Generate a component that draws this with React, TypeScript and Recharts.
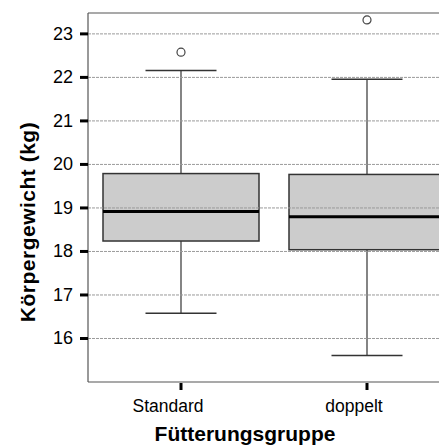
import { ComposedChart, Bar, Scatter, XAxis, YAxis, ReferenceLine } from 'recharts'

const groups = ['Standard', 'doppelt']
const whiskerLow = [16.58, 15.61]
const q1 = [18.24, 18.04]
const median = [18.92, 18.8]
const q3 = [19.79, 19.77]
const whiskerHigh = [22.16, 21.96]
const outliers = [22.58, 23.32]
const yTicks = [16, 17, 18, 19, 20, 21, 22, 23]
const yMax = 23.48

const data = groups.map((g, i) => ({
  group: g,
  range: [whiskerLow[i], whiskerHigh[i]],
  lo: whiskerLow[i],
  q1: q1[i],
  med: median[i],
  q3: q3[i],
  hi: whiskerHigh[i],
  outlier: outliers[i],
}))

const FONT = 'Liberation Sans, Arial, sans-serif'

// Whisker-to-whisker bar, the quartile box and median drawn inside it
function BoxShape(props: any) {
  const { x, y, width, height, payload } = props
  const top = Math.min(y, y + height)
  const h = Math.abs(height)
  const px = (v: number) => top + (h * (payload.hi - v)) / (payload.hi - payload.lo)
  const cx = x + width / 2
  const cap = 35.5
  return (
    <g>
      <line x1={cx} x2={cx} y1={px(payload.hi)} y2={px(payload.q3)} stroke="#333" strokeWidth={1.2} />
      <line x1={cx} x2={cx} y1={px(payload.q1)} y2={px(payload.lo)} stroke="#333" strokeWidth={1.2} />
      <line x1={cx - cap} x2={cx + cap} y1={px(payload.hi)} y2={px(payload.hi)} stroke="#333" strokeWidth={1.5} />
      <line x1={cx - cap} x2={cx + cap} y1={px(payload.lo)} y2={px(payload.lo)} stroke="#333" strokeWidth={1.5} />
      <rect x={x} y={px(payload.q3)} width={width} height={px(payload.q1) - px(payload.q3)}
        fill="#cccccc" stroke="#333" strokeWidth={1.5} />
      <line x1={x} x2={x + width} y1={px(payload.med)} y2={px(payload.med)} stroke="#000" strokeWidth={3} />
    </g>
  )
}

function OutlierDot(props: any) {
  const { cx, cy } = props
  return <circle cx={cx} cy={cy} r={4} fill="none" stroke="#444" strokeWidth={1.2} />
}

function YTick(props: any) {
  const { x, y, payload } = props
  return (
    <g>
      <line x1={x - 8} x2={x} y1={y} y2={y} stroke="#000" strokeWidth={3} />
      <text x={x - 15} y={y} textAnchor="end" dominantBaseline="central" fontSize={18} fontFamily={FONT} fill="#000">
        {payload.value}
      </text>
    </g>
  )
}

function XTick(props: any) {
  const { x, y, payload } = props
  return (
    <g>
      <line x1={x} x2={x} y1={y + 1} y2={y + 8} stroke="#000" strokeWidth={3} />
      <text x={x - 13} y={y + 24} textAnchor="middle" dominantBaseline="central" fontSize={17.5} fontFamily={FONT} fill="#000">
        {payload.value}
      </text>
    </g>
  )
}

const titleStyle = { fontSize: 21, fontWeight: 'bold' as const, fontFamily: FONT, fill: '#000' }

export default function App() {
  return (
    <div style={{ width: 439, height: 438, overflow: 'hidden' }}>
      <ComposedChart width={452} height={438} data={data} margin={{ top: 5, right: 0, bottom: 0, left: 0 }}>
        {yTicks.map((t) => (
          <ReferenceLine key={t} y={t} stroke="#9a9a9a" strokeDasharray="3 1" />
        ))}
        <XAxis dataKey="group" type="category" height={64} tick={<XTick />} tickLine={false} tickSize={0} tickMargin={0}
          axisLine={{ stroke: '#555', strokeWidth: 1.2 }} />
        <YAxis type="number" domain={[15.0, yMax]} ticks={yTicks} width={80} tick={<YTick />} tickLine={false} tickSize={0} tickMargin={0}
          axisLine={{ stroke: '#555', strokeWidth: 1.2 }} allowDataOverflow />
        <ReferenceLine y={yMax} stroke="#555" strokeWidth={1.2} />
        <Bar dataKey="range" barSize={156} shape={<BoxShape />} isAnimationActive={false} />
        <Scatter dataKey="outlier" shape={<OutlierDot />} isAnimationActive={false} />
        {/* axis titles */}
        <text x={237} y={432.5} textAnchor="middle" {...titleStyle}>Fütterungsgruppe</text>
        <text x={19} y={214} textAnchor="middle" dominantBaseline="central" transform="rotate(-90 19 214)"
          letterSpacing={0.5} {...titleStyle}>
          Körpergewicht  (kg)
        </text>
      </ComposedChart>
    </div>
  )
}
